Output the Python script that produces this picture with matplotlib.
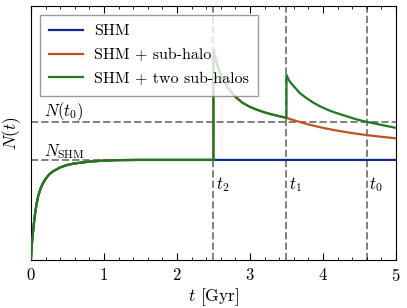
import matplotlib
matplotlib.use('Agg')
import matplotlib.pyplot as plt
from matplotlib.ticker import MultipleLocator

plt.rcParams['font.family'] = 'serif'
plt.rcParams['font.serif'] = ['cmr10']
plt.rcParams['mathtext.fontset'] = 'cm'
plt.rcParams['axes.formatter.use_mathtext'] = True
plt.rcParams['font.size'] = 11.5

# times of the sub-halo arrivals and today
t2, t1, t0 = 2.5, 3.5, 4.6
N_shm = 1.0
N_t0 = 1.38

# build-up of the SHM population
t_rise = [0, 0.01, 0.02, 0.04, 0.06, 0.08, 0.1, 0.13, 0.16, 0.2, 0.25, 0.3,
          0.4, 0.5, 0.6, 0.8, 1.0, 1.2, 1.5, 2.0, 2.5]
N_rise = [0, 0.13, 0.22, 0.36, 0.48, 0.57, 0.64, 0.71, 0.76, 0.81, 0.855, 0.885,
          0.925, 0.95, 0.965, 0.983, 0.993, 0.998, 1.0, 1.0, 1.0]

# first sub-halo decay, from t2 to 5 Gyr
t_sub1 = [2.5, 2.53, 2.56, 2.6, 2.65, 2.7, 2.8, 2.9, 3.0, 3.1, 3.2, 3.3, 3.4,
          3.5, 3.6, 3.7, 3.8, 3.9, 4.0, 4.2, 4.4, 4.6, 4.8, 5.0]
N_sub1 = [2.10, 2.01, 1.93, 1.85, 1.78, 1.72, 1.63, 1.57, 1.53, 1.50, 1.475,
          1.455, 1.437, 1.42, 1.397, 1.375, 1.355, 1.337, 1.32, 1.292, 1.268,
          1.248, 1.231, 1.216]

# two sub-halos after t1
t_sub2 = [3.5, 3.53, 3.57, 3.62, 3.68, 3.75, 3.85, 3.96, 4.1, 4.2, 4.33,
          4.46, 4.6, 4.8, 5.0]
N_sub2 = [1.85, 1.80, 1.76, 1.72, 1.67, 1.63, 1.58, 1.535, 1.49, 1.465,
          1.435, 1.405, 1.38, 1.35, 1.32]

blue = '#0f2a8a'
orange = '#c4521f'
green = '#1d7a22'
grey = '#808080'

fig = plt.figure(figsize=(4.07, 3.08), dpi=100)
ax = fig.add_axes([0.076, 0.156, 0.897, 0.825])

# guide lines
ax.axhline(N_shm, color=grey, ls='--', lw=1.4, zorder=1)
ax.axhline(N_t0, color=grey, ls='--', lw=1.4, zorder=1)
for tt in (t2, t1, t0):
    ax.axvline(tt, color=grey, ls='--', lw=1.4, zorder=1)

# SHM
ax.plot(t_rise + [5.0], N_rise + [N_shm], color=blue, lw=1.6, label='SHM', zorder=2)

# SHM + one sub-halo
i1 = t_sub1.index(t1)
ax.plot(t_rise + t_sub1, N_rise + N_sub1, color=orange, lw=1.6,
        label='SHM + sub-halo', zorder=2.5)

# SHM + two sub-halos
ax.plot(t_rise + t_sub1[:i1 + 1] + t_sub2, N_rise + N_sub1[:i1 + 1] + N_sub2,
        color=green, lw=1.6, label='SHM + two sub-halos', zorder=3)

ax.text(0.18, 1.44, r'$N(t_0)$', fontsize=12)
ax.text(0.18, 1.04, r'$N_{\rm SHM}$', fontsize=12)
ax.text(t2 + 0.03, 0.75, r'$t_2$', fontsize=12, va='center')
ax.text(t1 + 0.03, 0.75, r'$t_1$', fontsize=12, va='center')
ax.text(t0 + 0.03, 0.75, r'$t_0$', fontsize=12, va='center')

ax.set_xlim(0, 5)
ax.set_ylim(0, 2.54)
ax.set_yticks([])
ax.xaxis.set_major_locator(MultipleLocator(1))
ax.xaxis.set_minor_locator(MultipleLocator(0.2))
ax.tick_params(axis='x', which='both', direction='in', top=True, labelsize=12)
ax.tick_params(axis='x', which='major', length=5, pad=5)
ax.tick_params(axis='x', which='minor', length=2.5)

ax.set_xlabel(r'$t$ [Gyr]', fontsize=12.5, labelpad=2)
ax.set_ylabel(r'$N(t)$', fontsize=12.5, labelpad=6)

leg = ax.legend(loc='upper left', fancybox=False, framealpha=0.8,
                edgecolor=grey, handlelength=2.1, handletextpad=0.7,
                fontsize=11.5, borderaxespad=0.55, borderpad=0.6,
                labelspacing=0.6)
leg.get_frame().set_linewidth(1.0)

fig.savefig('out.png', dpi=100)
